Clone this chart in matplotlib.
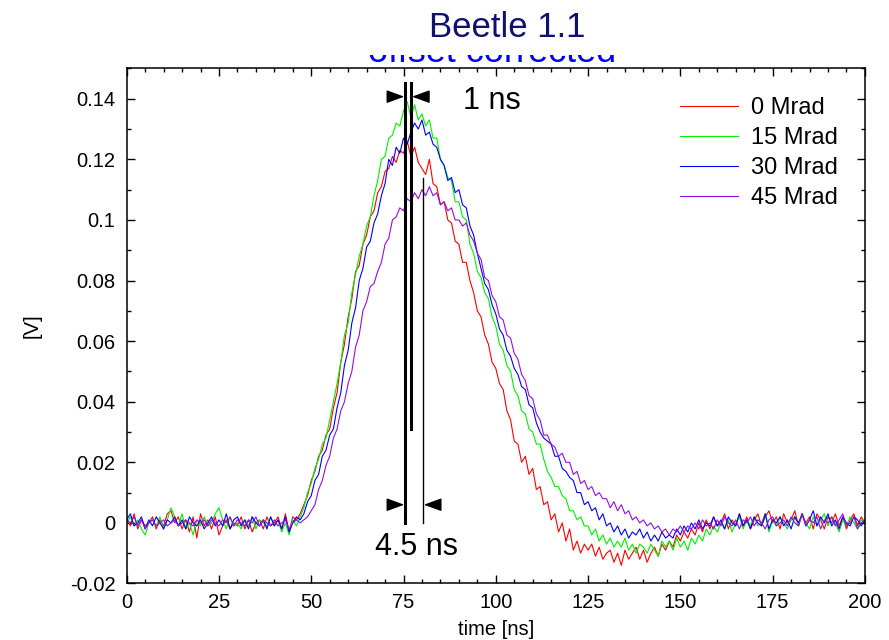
import numpy as np
import matplotlib
matplotlib.use("Agg")
import matplotlib.pyplot as plt
from matplotlib.patches import FancyArrowPatch
from matplotlib.ticker import MultipleLocator, FuncFormatter

plt.rcParams['font.family'] = ['Liberation Sans', 'DejaVu Sans']

# pulse shapes, sampled every 1 ns from 0 to 200 ns, amplitude in mV
time_ns = np.arange(0, 201, 1)

mrad_0 = [
    2, -1, 3, -2, 1, -1, 0, 2, -2, 1,
    -1, 3, 4, 0, 2, -2, 1, -3, 2, -5,
    3, -1, 1, -2, 2, -4, -1, 1, -2, 0,
    -1, 2, -2, 1, -3, 0, 1, -2, 2, -1,
    0, 2, -2, 3, -3, 2, 1, 3, 6, 9,
    14, 17, 22, 24, 29, 31, 38, 43, 53, 59,
    68, 74, 83, 85, 92, 95, 101, 103, 109, 111,
    116, 117, 121, 119, 123, 122, 126, 121, 124, 119,
    117, 115, 120, 112, 111, 105, 106, 100, 99, 93,
    92, 86, 86, 80, 76, 70, 68, 62, 59, 53,
    51, 46, 44, 37, 34, 27, 26, 20, 22, 16,
    18, 11, 12, 6, 7, 1, 3, -3, 0, -6,
    -2, -9, -6, -10, -7, -9, -7, -11, -8, -12,
    -10, -9, -13, -10, -14, -9, -12, -10, -8, -12,
    -9, -13, -10, -8, -11, -7, -9, -6, -8, -4,
    -6, -3, -5, -2, -4, 0, -3, 1, -2, 2,
    -1, 0, 3, -2, 1, -1, 3, -1, 2, -2,
    1, 3, -1, 2, 4, 0, 2, -2, 3, 0,
    1, 4, -1, 3, 0, 2, -2, 3, 1, -2,
    2, 0, 3, -1, 2, -2, 1, 3, -1, 2,
    0,
]

mrad_15 = [
    0, 2, -1, 1, -2, -4, 0, 1, -1, 2,
    -2, 1, 5, 2, -1, 3, -2, 0, -4, 1,
    -1, 2, -1, 0, 3, 5, 1, -2, 2, -1,
    0, -2, 1, -1, 2, -2, 1, 0, -1, 2,
    -1, 1, -3, 0, -4, 1, -1, 2, 5, 10,
    13, 18, 21, 26, 28, 34, 40, 46, 53, 62,
    66, 76, 82, 88, 92, 98, 101, 108, 113, 120,
    121, 127, 128, 132, 131, 136, 139, 134, 138, 133,
    135, 131, 133, 127, 127, 120, 118, 114, 113, 106,
    106, 101, 100, 92, 89, 83, 81, 76, 74, 68,
    65, 59, 57, 52, 50, 44, 42, 37, 36, 31,
    30, 26, 26, 21, 17, 15, 12, 12, 9, 8,
    4, 4, 1, 2, -1, -1, -4, -2, -6, -4,
    -7, -5, -8, -6, -8, -5, -9, -7, -10, -7,
    -8, -10, -7, -9, -11, -6, -8, -6, -9, -5,
    -8, -6, -9, -5, -7, -4, -6, -2, -4, -1,
    -3, 0, -2, 1, -3, 0, 2, -2, 1, -1,
    2, -1, 0, 3, -3, 1, -1, 2, 0, -2,
    1, 2, -1, 3, 0, -2, 2, -1, 1, 3,
    -1, 2, 0, -3, 1, -1, 2, 0, -2, 1,
    0,
]

mrad_30 = [
    1, 3, -1, 0, 2, -2, 1, -1, 2, 0,
    -2, 1, 0, 2, -1, 1, -2, 2, 0, -1,
    1, -2, 0, 2, -1, 1, -1, 3, -2, 1,
    2, -1, 1, -2, 2, 0, -1, 1, -2, 2,
    -1, 1, -2, 2, -3, 0, 2, 1, 3, 7,
    9, 14, 16, 22, 24, 29, 31, 38, 43, 52,
    57, 66, 71, 80, 84, 91, 93, 99, 102, 108,
    112, 120, 118, 124, 122, 127, 125, 129, 132, 130,
    133, 128, 129, 125, 124, 120, 118, 113, 114, 109,
    110, 105, 104, 98, 95, 89, 84, 79, 77, 72,
    69, 64, 62, 57, 55, 51, 49, 45, 44, 39,
    38, 33, 30, 28, 27, 26, 22, 22, 18, 17,
    15, 14, 10, 10, 6, 7, 4, 5, 1, 3,
    -1, 0, -3, -1, -4, -2, -5, -3, -4, -2,
    -5, -3, -6, -4, -6, -3, -5, -4, -5, -2,
    -4, -1, -3, 0, -2, 1, -2, 0, -1, 2,
    -1, 1, -2, 2, 0, -1, 3, -1, 1, -2,
    2, 0, -1, 3, -2, 1, 0, 2, -1, 1,
    -2, 2, 0, 3, -1, 1, 4, -1, 2, 0,
    3, -1, 1, -2, 2, 0, -1, 2, 1, -1,
    1,
]

mrad_45 = [
    1, 0, 2, -1, 1, -2, 0, 1, -1, 0,
    1, -1, 0, 1, -1, 0, 1, 0, -1, 1,
    0, 1, -1, 1, 0, -1, 1, 0, 2, -1,
    1, 0, -1, 1, 0, 2, -1, 1, 0, -1,
    1, -1, 0, 1, -2, 0, 1, 0, 1, 2,
    4, 6, 11, 14, 19, 22, 28, 31, 37, 40,
    46, 50, 58, 62, 70, 73, 78, 79, 83, 86,
    92, 94, 100, 101, 104, 103, 107, 106, 109, 107,
    110, 108, 111, 108, 109, 105, 106, 103, 104, 100,
    100, 98, 99, 95, 93, 89, 87, 81, 80, 75,
    73, 68, 67, 62, 61, 56, 54, 49, 47, 42,
    41, 36, 34, 29, 29, 26, 25, 22, 23, 20,
    20, 16, 17, 13, 14, 11, 12, 9, 10, 8,
    8, 5, 7, 4, 6, 3, 4, 1, 2, 0,
    1, -1, 0, -2, -1, -3, -2, -4, -2, -3,
    -1, -3, -1, -2, 0, -2, 1, -1, 0, -2,
    1, -1, 2, 0, -1, 1, -2, 1, 0, 2,
    -1, 1, 0, -2, 1, 2, -1, 0, 1, -1,
    2, 0, -1, 3, -1, 1, 0, 2, -2, 1,
    0, 2, -1, 1, 3, -1, 0, 2, -2, 0,
    1,
]

labels = ['0 Mrad', '15 Mrad', '30 Mrad', '45 Mrad']
colors = ['#ff0000', '#00f000', '#0000ff', '#9010e0']

# peak-time markers [ns]
peak_0 = 75.5
peak_15 = 77.0
peak_45 = 80.4

fig = plt.figure(figsize=(8.89, 6.4), dpi=100)
ax = fig.add_axes([0.1425, 0.0883, 0.8304, 0.8047])

for series, label, color in zip([mrad_0, mrad_15, mrad_30, mrad_45], labels, colors):
    ax.plot(time_ns, np.array(series) / 1000.0, color=color, lw=0.8, label=label)

# peak markers
ax.plot([peak_0, peak_0], [0.0, 0.1452], color='black', lw=2.2)
ax.plot([peak_15, peak_15], [0.031, 0.1452], color='black', lw=2.2)
ax.plot([peak_45, peak_45], [0.0, 0.114], color='black', lw=1.0)


def arrow(x0, x1, y):
    ax.add_patch(FancyArrowPatch((x0, y), (x1, y), arrowstyle='-|>,head_length=0.9,head_width=0.33',
                                 mutation_scale=12, color='black', lw=1.0, shrinkA=0, shrinkB=0))


arrow(peak_0 - 4.7, peak_0 - 0.3, 0.1407)
arrow(peak_15 + 4.7, peak_15 + 0.3, 0.1407)
arrow(peak_0 - 4.7, peak_0 - 0.3, 0.006)
arrow(peak_45 + 4.6, peak_45 + 0.1, 0.006)

ax.text(91.2, 0.1394, '1 ns', fontsize=22, ha='left', va='center')
ax.text(78.4, -0.0081, '4.5 ns', fontsize=22, ha='center', va='center')

ax.set_xlim(0, 200)
ax.set_ylim(-0.02, 0.15)
ax.xaxis.set_major_locator(MultipleLocator(25))
ax.xaxis.set_minor_locator(MultipleLocator(5))
ax.yaxis.set_major_locator(MultipleLocator(0.02))
ax.yaxis.set_minor_locator(MultipleLocator(0.01))
ax.yaxis.set_major_formatter(FuncFormatter(lambda v, p: f"{round(v, 3):g}"))
ax.tick_params(which='both', direction='in', top=True, right=True, width=1.0, labelsize=14.5)
ax.tick_params(which='major', length=5.5)
ax.tick_params(which='minor', length=3)
ax.tick_params(axis='y', pad=8)
ax.tick_params(axis='x', pad=7)
for s in ax.spines.values():
    s.set_linewidth(1.1)

ax.set_xlabel('time [ns]', fontsize=14.5)
ax.set_ylabel('[V]', fontsize=14.5)
ax.xaxis.set_label_coords(0.5, -0.07)
ax.yaxis.set_label_coords(-0.115, 0.5)

ax.legend(loc='upper left', bbox_to_anchor=(0.7497, 0.944), frameon=False, fontsize=17,
          handlelength=2.45, handletextpad=0.55, labelspacing=0.34, borderpad=0, borderaxespad=0)

# subtitle: only its lower strip shows between the title and the frame
sub = fig.add_axes([0.3, 1 - 68.5 / 640, 0.45, 13.5 / 640])
sub.axis('off')
sub.text((492.5 / 889 - 0.3) / 0.45, (68.5 - 61.5) / 13.5, 'offset corrected', fontsize=26,
         color='#0000ff', ha='center', va='baseline', transform=sub.transAxes, clip_on=True)

fig.text(507.5 / 889, 1 - 37 / 640, 'Beetle 1.1', fontsize=25, color='#101070',
         ha='center', va='baseline')

fig.savefig('out.png', dpi=100)
